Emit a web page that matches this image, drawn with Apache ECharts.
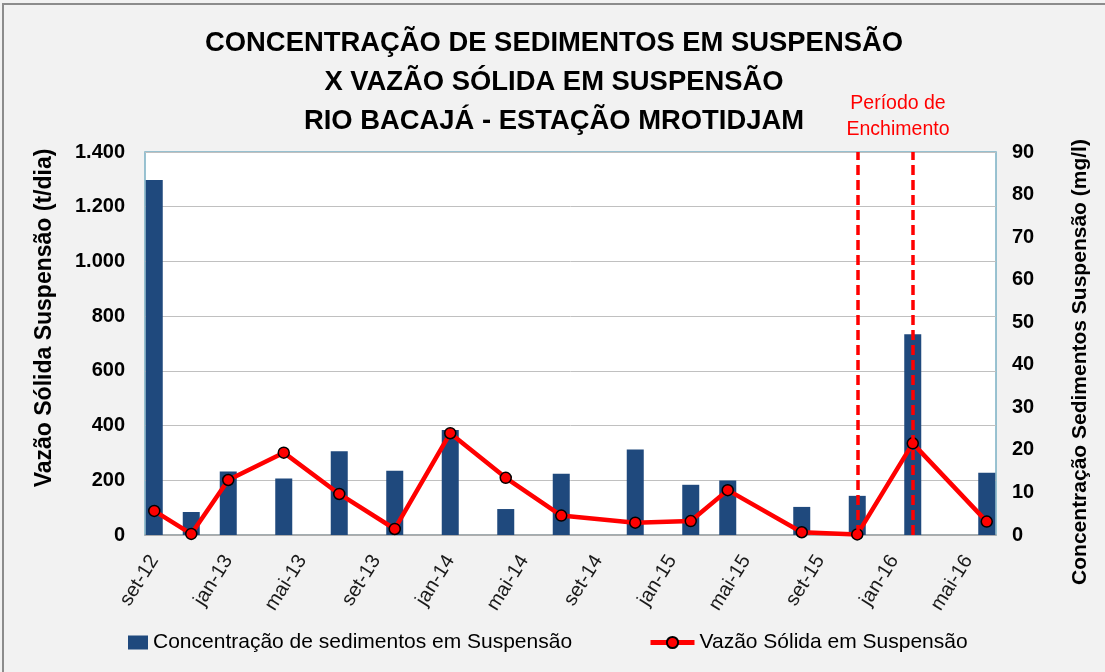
<!DOCTYPE html>
<html>
<head>
<meta charset="utf-8">
<script src="https://cdn.jsdelivr.net/npm/echarts@6/dist/echarts.min.js"></script>
<style>
html,body{margin:0;padding:0;background:#f2f2f2;}
#chart{width:1105px;height:672px;}
</style>
</head>
<body>
<div id="chart"></div>
<script>
// meses do eixo x (set-12 a jun-16)
const months = [
    'set-12','out-12','nov-12','dez-12',
    'jan-13','fev-13','mar-13','abr-13','mai-13','jun-13','jul-13','ago-13','set-13','out-13','nov-13','dez-13',
    'jan-14','fev-14','mar-14','abr-14','mai-14','jun-14','jul-14','ago-14','set-14','out-14','nov-14','dez-14',
    'jan-15','fev-15','mar-15','abr-15','mai-15','jun-15','jul-15','ago-15','set-15','out-15','nov-15','dez-15',
    'jan-16','fev-16','mar-16','abr-16','mai-16','jun-16'
];
// campanhas de medição
const sampleMonths = ['set-12','nov-12','jan-13','abr-13','jul-13','out-13','jan-14','abr-14','jul-14','nov-14','fev-15','abr-15','ago-15','nov-15','fev-16','jun-16'];
const concentracao = [83.4,5.4,14.9,13.3,19.7,15.1,24.7,6.1,14.4,20.1,11.8,12.8,6.6,9.2,47.2,14.6];   // mg/l
const vazaoSolida = [88,4,201,301,150,22,372,209,71,45,51,164,10,2,335,49];                          // t/dia
const enchimento = ['nov-15','fev-16'];

const chart = echarts.init(document.getElementById('chart'));

const fmtMilhar = v => String(v).replace(/\B(?=(\d{3})+(?!\d))/g, '.');

const option = {
    animation: false,
    backgroundColor: '#f2f2f2',
    textStyle: { fontFamily: 'Liberation Sans' },
    graphic: [
        {
            type: 'rect',
            shape: { x: 3, y: 4, width: 1300, height: 1000 },
            style: { fill: 'none', stroke: '#8c8c8c', lineWidth: 2 },
            silent: true
        },
        {
            type: 'text',
            x: 554, y: 82,
            style: {
                text: 'CONCENTRAÇÃO DE SEDIMENTOS EM SUSPENSÃO\nX VAZÃO SÓLIDA EM SUSPENSÃO\nRIO BACAJÁ - ESTAÇÃO MROTIDJAM',
                fill: '#000',
                font: 'bold 27.4px "Liberation Sans"',
                lineHeight: 39,
                align: 'center',
                verticalAlign: 'middle'
            }
        },
        {
            type: 'text',
            x: 898, y: 117,
            style: {
                text: 'Período de\nEnchimento',
                fill: '#ff0000',
                font: '19.5px "Liberation Sans"',
                lineHeight: 26,
                align: 'center',
                verticalAlign: 'middle'
            }
        },
        {
            type: 'text',
            x: 45, y: 318,
            rotation: Math.PI / 2,
            style: {
                text: 'Vazão Sólida Suspensão (t/dia)',
                fill: '#000',
                font: 'bold 23px "Liberation Sans"',
                align: 'center',
                verticalAlign: 'middle'
            }
        },
        {
            type: 'text',
            x: 1080, y: 362,
            rotation: Math.PI / 2,
            style: {
                text: 'Concentração Sedimentos Suspensão (mg/l)',
                fill: '#000',
                font: 'bold 21px "Liberation Sans"',
                align: 'center',
                verticalAlign: 'middle'
            }
        }
    ],
    legend: [
        {
            data: [{ name: 'Concentração de sedimentos em Suspensão', icon: 'rect' }],
            left: 128, top: 632,
            padding: 0,
            itemWidth: 20, itemHeight: 14,
            textStyle: { fontSize: 21, color: '#000' }
        },
        {
            data: ['Vazão Sólida em Suspensão'],
            left: 648, top: 632,
            padding: 0,
            itemWidth: 44, itemHeight: 14,
            lineStyle: { width: 5, color: '#ff0000' },
            textStyle: { fontSize: 21, color: '#000' }
        }
    ],
    grid: {
        left: 145, right: 109, top: 152, bottom: 137,
        show: true,
        backgroundColor: '#fff',
        borderColor: '#79b0c4',
        borderWidth: 1.5
    },
    xAxis: {
        type: 'category',
        data: months,
        axisTick: { show: false },
        axisLine: { lineStyle: { color: '#a6a6a6', width: 1.5 } },
        axisLabel: {
            interval: 3,
            rotate: 58,
            margin: 22,
            fontSize: 20,
            color: '#1a1a1a'
        }
    },
    yAxis: [
        {
            type: 'value',
            min: 0, max: 1400, interval: 200,
            axisLine: { show: false },
            axisTick: { show: false },
            splitLine: { lineStyle: { color: '#c0c0c0', width: 1 } },
            axisLabel: {
                margin: 20,
                fontSize: 20,
                fontWeight: 'bold',
                color: '#000',
                formatter: fmtMilhar
            }
        },
        {
            type: 'value',
            min: 0, max: 90, interval: 10,
            axisLine: { show: false },
            axisTick: { show: false },
            splitLine: { show: false },
            axisLabel: {
                margin: 16,
                fontSize: 20,
                fontWeight: 'bold',
                color: '#000'
            }
        }
    ],
    series: [
        {
            name: 'Concentração de sedimentos em Suspensão',
            type: 'bar',
            yAxisIndex: 1,
            barWidth: 17,
            itemStyle: { color: '#1f497d' },
            data: sampleMonths.map((m, i) => [m, concentracao[i]]),
            markLine: {
                silent: true,
                symbol: ['none', 'none'],
                label: { show: false },
                lineStyle: { color: '#ff0000', width: 3.5, type: [10, 5] },
                data: enchimento.map(m => ({ xAxis: m }))
            }
        },
        {
            name: 'Vazão Sólida em Suspensão',
            type: 'line',
            yAxisIndex: 0,
            symbol: 'circle',
            symbolSize: 11,
            itemStyle: { color: '#ff0000', borderColor: '#000', borderWidth: 1.5 },
            lineStyle: { color: '#ff0000', width: 4.5 },
            data: sampleMonths.map((m, i) => [m, vazaoSolida[i]])
        }
    ]
};
chart.setOption(option);
</script>
</body>
</html>
